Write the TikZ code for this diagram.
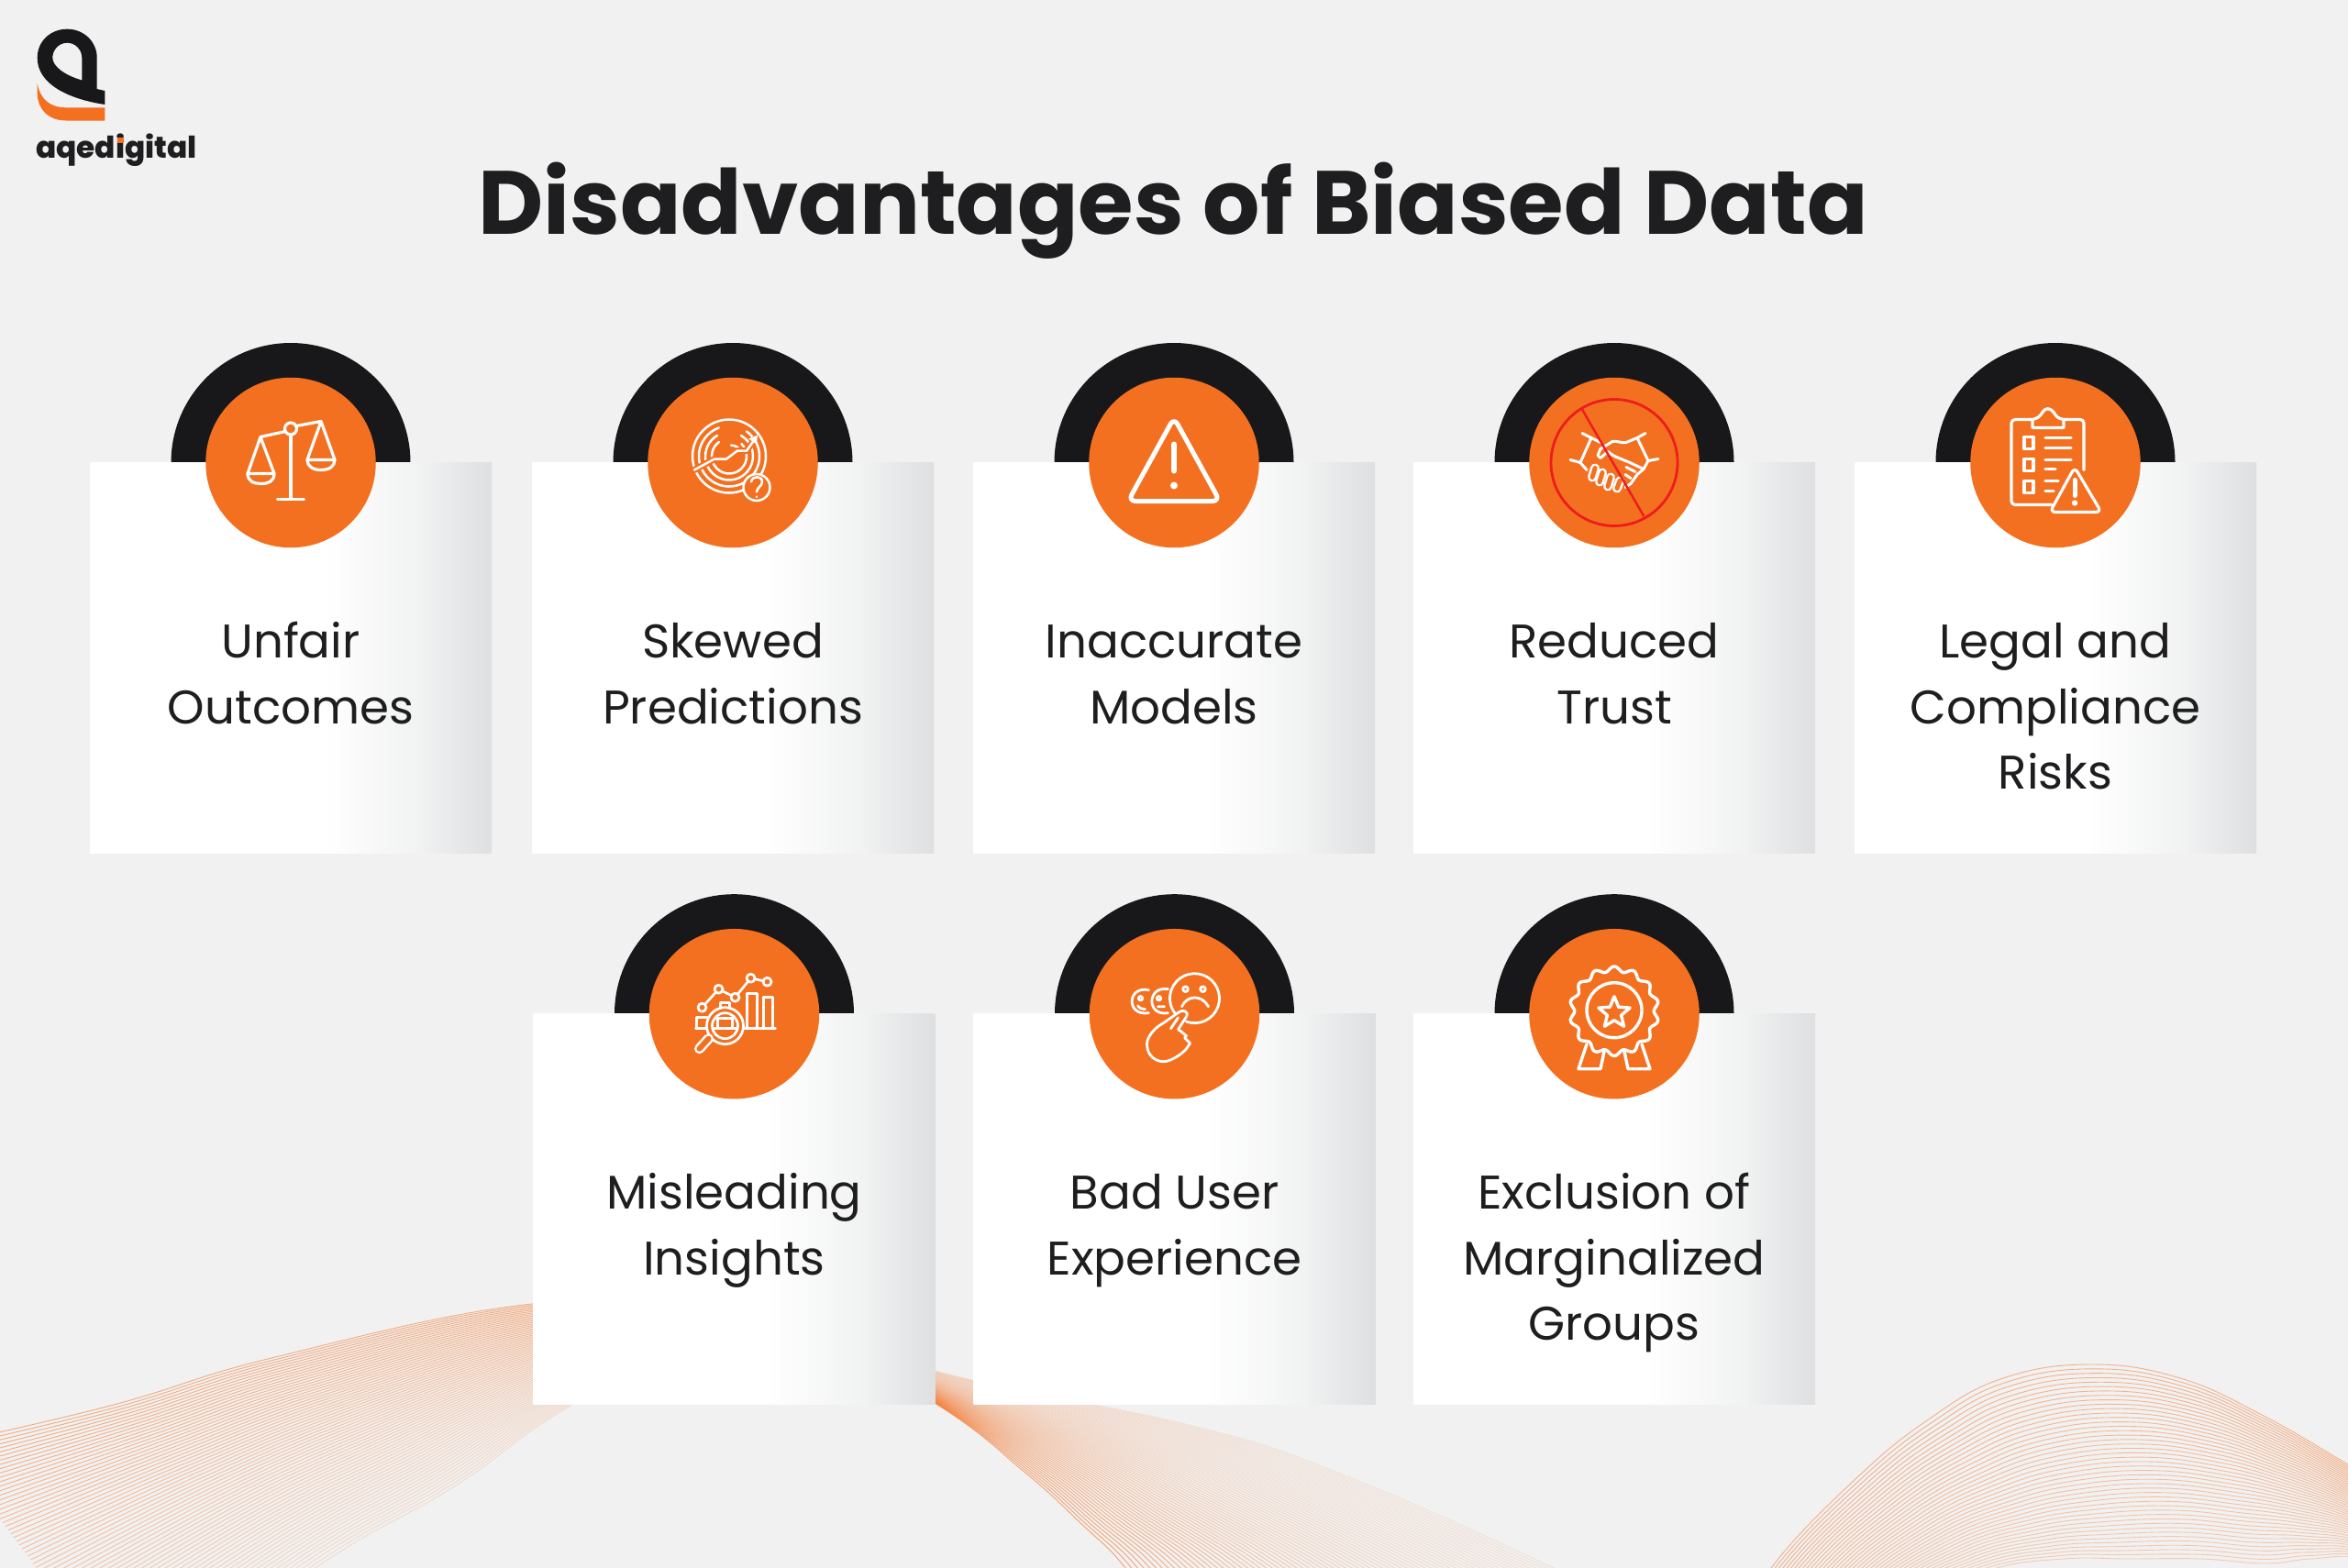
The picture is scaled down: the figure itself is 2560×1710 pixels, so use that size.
\documentclass[tikz,border=0pt]{standalone}
\usepackage{fontspec}
\setmainfont{Poppins}
\newfontfamily\logofont{Poppins ExtraBold}
\usetikzlibrary{calc}
\definecolor{bgc}{HTML}{F1F1F1}
\definecolor{orangec}{HTML}{F37021}
\definecolor{blackc}{HTML}{18181A}
\definecolor{textc}{HTML}{1E1E20}
\definecolor{redc}{HTML}{EE1C1C}
\definecolor{F1c}{HTML}{F1F2F2}
\definecolor{G1c}{HTML}{DDDFE1}
\pgfdeclarehorizontalshading{cardshade}{100bp}{color(0bp)=(white);color(25bp)=(white);color(54bp)=(white);color(66bp)=(F1c);color(75bp)=(G1c);color(100bp)=(G1c)}
\tikzset{
  arcdisc/.style={circle,fill=blackc,minimum size=261pt,inner sep=0pt},
  badgedisc/.style={circle,fill=orangec,minimum size=185.5pt,inner sep=0pt},
  cardbox/.style={anchor=north west,minimum width=438pt,minimum height=426pt,inner sep=0pt,shading=cardshade},
  cardtext/.style={anchor=north,align=center,inner sep=0pt,text=textc,font=\fontsize{51.5}{71.5}\selectfont},
  icon/.style={draw=white,line width=3.2pt,line cap=round,line join=round},
  wavec/.style={draw=orangec,line width=0.9pt}
}
\newcommand{\carditem}[4]{%
  \node[arcdisc] (arc#1) at (#2,#3) {};
  \node[cardbox] (card#1) at (#2-219,#3) {};
  \node[badgedisc] (disc#1) at (#2,#3) {};
  \node[cardtext] (label#1) at (#2,#3+163) {\strut #4};
}
\newcommand{\capsule}[5][10]{%
  \draw[line width=#1 pt,draw=white] (#2,#3) -- (#4,#5);
  \draw[line width=#1 pt-5pt,draw=orangec] (#2,#3) -- (#4,#5);
}
\begin{document}
\begin{tikzpicture}[x=1pt,y=-1pt]
\useasboundingbox (0,0) rectangle (2560,1710);
\fill[bgc] (0,0) rectangle (2560,1710);

% waves
\coordinate (La0) at (-60,1575);  \coordinate (Lb0) at (150,1860);
\coordinate (La1) at (124,1532);  \coordinate (Lb1) at (344,1710);
\coordinate (La2) at (300,1480);  \coordinate (Lb2) at (497,1620);
\coordinate (La3) at (580,1422);  \coordinate (Lb3) at (622,1533);
\coordinate (La4) at (800,1425);  \coordinate (Lb4) at (830,1425);
\coordinate (La5) at (1019,1495); \coordinate (Lb5) at (1019,1530);
\coordinate (La6) at (1300,1555); \coordinate (Lb6) at (1119,1607);
\coordinate (La7) at (1461,1607); \coordinate (Lb7) at (1177,1660);
\coordinate (La8) at (1694,1710); \coordinate (Lb8) at (1227,1710);
\coordinate (La9) at (1850,1790); \coordinate (Lb9) at (1270,1780);
\coordinate (Ra0) at (1880,1800); \coordinate (Rb0) at (2050,1830);
\coordinate (Ra1) at (1931,1710); \coordinate (Rb1) at (2090,1750);
\coordinate (Ra2) at (2023,1613); \coordinate (Rb2) at (2170,1712);
\coordinate (Ra3) at (2104,1547); \coordinate (Rb3) at (2250,1700);
\coordinate (Ra4) at (2184,1503); \coordinate (Rb4) at (2320,1700);
\coordinate (Ra5) at (2281,1488); \coordinate (Rb5) at (2400,1700);
\coordinate (Ra6) at (2377,1503); \coordinate (Rb6) at (2470,1705);
\coordinate (Ra7) at (2466,1543); \coordinate (Rb7) at (2520,1700);
\coordinate (Ra8) at (2560,1597); \coordinate (Rb8) at (2580,1700);
\coordinate (Ra9) at (2650,1650); \coordinate (Rb9) at (2660,1730);
\begin{scope}
\clip (0,0) rectangle (2560,1710);
\foreach \i in {0,...,70}{
  \pgfmathsetmacro\t{\i/70}
  \pgfmathsetmacro\op{0.55-0.37*\t}
  \pgfmathsetmacro\oq{0.14+0.48*\t*\t}
  \draw[wavec,opacity=\op] plot[smooth,tension=0.7] coordinates {
   ($(La0)!\t!(Lb0)$) ($(La1)!\t!(Lb1)$) ($(La2)!\t!(Lb2)$) ($(La3)!\t!(Lb3)$) ($(La4)!\t!(Lb4)$)};
  \draw[wavec,opacity=\oq] plot[smooth,tension=0.7] coordinates {
   ($(La4)!\t!(Lb4)$) ($(La5)!\t!(Lb5)$) ($(La6)!\t!(Lb6)$) ($(La7)!\t!(Lb7)$) ($(La8)!\t!(Lb8)$) ($(La9)!\t!(Lb9)$)};
}
\foreach \i in {0,...,44}{
  \pgfmathsetmacro\t{\i/44}
  \pgfmathsetmacro\op{0.5-0.2*\t}
  \draw[wavec,opacity=\op] plot[smooth,tension=0.7] coordinates {
   ($(Ra0)!\t!(Rb0)$) ($(Ra1)!\t!(Rb1)$) ($(Ra2)!\t!(Rb2)$) ($(Ra3)!\t!(Rb3)$) ($(Ra4)!\t!(Rb4)$)
   ($(Ra5)!\t!(Rb5)$) ($(Ra6)!\t!(Rb6)$) ($(Ra7)!\t!(Rb7)$) ($(Ra8)!\t!(Rb8)$) ($(Ra9)!\t!(Rb9)$)};
}
\end{scope}

% logo
\fill[blackc,even odd rule] (114.3,114) -- (114.3,99) .. controls (110,98) and (107,97.5) .. (105.7,97) -- (105.7,63)
  .. controls (105.7,45) and (91,31.7) .. (73.2,31.7) .. controls (55,31.7) and (40.7,45) .. (40.7,63)
  .. controls (40.7,92) and (75,108) .. (114.3,114) -- cycle
  (89.3,87.5) -- (89.3,63) .. controls (89.3,54) and (82,46.7) .. (73.3,46.7) .. controls (64.5,46.7) and (57.3,54) .. (57.3,63)
  .. controls (57.3,72) and (70,82) .. (89.3,87.5) -- cycle;
\fill[orangec] (40.7,91) .. controls (44,108) and (54,117.3) .. (72,117.3) -- (114.3,117.3) -- (114.3,131.5) -- (72,131.5)
  .. controls (52,131.5) and (40.7,118) .. (40.7,102) -- cycle;
\node[anchor=base west,inner sep=0pt,text=textc,font=\logofont\fontsize{32.7}{36}\selectfont] (logotext) at (39,172) {aqedigital};
\fill[orangec] (128,149.5) rectangle (134.5,155.5);

% title
\node[anchor=base,inner sep=0pt,text=textc,font=\fontsize{98}{110}\bfseries\selectfont] (title) at (1279,255) {Disadvantages of Biased Data};

% cards
\carditem{1}{317}{504.5}{Unfair\\Outcomes}
\carditem{2}{799}{504.5}{Skewed\\Predictions}
\carditem{3}{1280}{504.5}{Inaccurate\\Models}
\carditem{4}{1760}{504.5}{Reduced\\Trust}
\carditem{5}{2241}{504.5}{Legal and\\Compliance\\Risks}
\carditem{6}{800.5}{1105.7}{Misleading\\Insights}
\carditem{7}{1280.5}{1105.7}{Bad User\\Experience}
\carditem{8}{1760}{1105.7}{Exclusion of\\Marginalized\\Groups}

% icon 1: scales
\begin{scope}[shift={(disc1.center)},icon]
\draw (0,-30) -- (0,40) (-14.5,40) -- (14.5,40);
\draw (-33,-28) -- (-6,-34) (6,-40) -- (33,-45);
\draw (0,-37) circle (6.5);
\draw (-47,12) -- (-33,-28) -- (-18,12);
\draw (-47,12) -- (-18,12) .. controls (-18,20) and (-24,23) .. (-32,23) .. controls (-41,23) and (-47,20) .. (-47,12) -- cycle;
\draw (18,-3) -- (33,-45) -- (48,-3);
\draw (18,-3) -- (48,-3) .. controls (48,4) and (42,8) .. (33,8) .. controls (24,8) and (18,4) .. (18,-3) -- cycle;
\end{scope}
% icon 2: rings
\begin{scope}[shift={(disc2.center)},icon,line width=2.5pt]
\foreach \r/\a/\b in {40/0/360,33/-55/250,26/-60/240,19/-45/235}{
  \draw ([shift={(\a:\r)}]-4,-7) arc (\a:\b:\r);
}
\draw ([shift={(-90:12)}]-2,-7) arc (-90:-20:12);
\draw[draw=orangec,line width=7pt] (-42,8) -- (-20,-4) -- (-7,-4) -- (5,-13) -- (15,-13) -- (25,-27);
\draw (-42,8) -- (-20,-4) -- (-7,-4) -- (5,-13) -- (15,-13) -- (25,-27);
\fill[white] (27,-30) -- (26,-20) -- (17,-26) -- cycle;
\filldraw[fill=orangec] (26,27) circle (14.5);
\draw (20,21) .. controls (21,14) and (32,14) .. (32,21) .. controls (32,26) and (26,27) .. (26,32);
\draw (26,37) -- (26,37.5);
\end{scope}
% icon 3: warning
\begin{scope}[shift={(disc3.center)},icon,line width=5pt]
\draw[rounded corners=8pt] (0,-49) -- (50,42) -- (-50,42) -- cycle;
\draw[line width=6pt] (0,-20) -- (0,9);
\fill[white] (0,25) circle (4);
\end{scope}
% icon 4: handshake
\begin{scope}[shift={(disc4.center)},icon,line width=3pt]
\draw (-35,-32) -- (-25,-27) -- (-37,0) -- (-48,-3);
\draw (34,-32) -- (25,-27) -- (37,-2) -- (48,-4);
\draw (-25,-27) -- (-15,-22);
\draw (25,-27) -- (13,-22) .. controls (8,-21) and (3,-24) .. (-2,-23) -- (-15,-15) -- (-18,-8) -- (-15,-5) -- (-7,-12) .. controls (-2,-8) and (2,-6) .. (5,-5) -- (17,0) -- (32,7) -- (37,-2);
\draw (32,7) -- (25,13) -- (18,23) -- (12,27);
\draw (-37,0) -- (-30,8);
\capsule{-21}{6}{-24}{16}
\capsule{-13}{11}{-16}{21}
\capsule{-4}{16}{-7}{26}
\capsule{6}{20}{3}{28}
\draw (13,5) -- (23,10) (12,13) -- (18,17);
\draw[redc,line width=2.8pt] (0,0) circle (69);
\draw[redc,line width=2.4pt] (-35,-58) -- (32,58);
\end{scope}
% icon 5: clipboard
\begin{scope}[shift={(disc5.center)},icon]
\draw[rounded corners=4pt] (-25,-47) -- (-48,-47) -- (-48,46) -- (-4,46);
\draw[rounded corners=4pt] (9,-47) -- (31,-47) -- (31,8);
\draw (-25,-38) -- (9,-38) -- (9,-47) .. controls (3,-48) and (1,-50) .. (-2,-55) .. controls (-6,-60) and (-11,-60) .. (-14,-55) .. controls (-17,-50) and (-20,-48) .. (-25,-47) -- cycle;
\draw (-34,-28) rectangle (-24,-15);
\draw (-34,-4) rectangle (-24,9);
\draw (-34,20) rectangle (-24,33);
\draw (-11,-27) -- (17,-27) (-11,-16) -- (17,-16) (-11,-3) -- (17,-3) (-11,7) -- (0,7) (-11,20) -- (3,20) (-11,31) -- (-2,31);
\filldraw[fill=orangec,rounded corners=6pt] (21,5) -- (50,54) -- (-6,54) -- cycle;
\draw[line width=5pt] (21,19) -- (21,36);
\fill[white] (21,44) circle (3.2);
\end{scope}
% icon 6: analytics
\begin{scope}[shift={(disc6.center)},icon,line width=2.7pt]
\draw (-42,16) -- (45,16);
\draw (-41,16) -- (-41,4) -- (-28,4);
\draw (14,16) -- (14,-22) -- (25,-22) -- (25,16);
\draw (32,16) -- (32,-18) -- (42,-18) -- (42,16);
\draw (-35,-7) -- (-17,-27) -- (1,-18) -- (18,-39) -- (36,-35);
\filldraw[fill=orangec] (-35,-7) circle (4.5) (-17,-27) circle (4.5) (1,-18) circle (4.5) (18,-39) circle (4.5) (36,-35) circle (4.5);
\draw (-15,-7) -- (-15,-12) -- (-5,-12) -- (-5,-7);
\filldraw[fill=orangec] (-10,13) circle (20);
\draw (-10,13) circle (14);
\draw (-18,15) -- (-18,5) -- (-2,5) -- (-2,15) (-22,16) -- (2,16);
\capsule[11]{-28}{27}{-38}{38}
\end{scope}
% icon 7: faces and hand
\begin{scope}[shift={(disc7.center)},icon,line width=2.8pt]
\draw ([shift={(110:27)}]22,-17) arc (110:-220:27);
\draw (12,-27) circle (2.8) (31,-27) circle (2.8);
\draw (8,-8) .. controls (14,-21) and (30,-21) .. (37,-8);
\draw (-7,-27) .. controls (-30,-31) and (-31,3) .. (-7,-1);
\draw (-28,-26) .. controls (-52,-31) and (-53,3) .. (-28,-1);
\draw (-17,-17) circle (2.2) (-37,-17) circle (2.2);
\draw (-18,-8) -- (-11,-8) (-40,-9) .. controls (-38,-6) and (-35,-5) .. (-32,-5);
\filldraw[fill=orangec] (5,-2) -- (-12,10) .. controls (-20,14) and (-30,24) .. (-30,33) .. controls (-30,46) and (-20,52) .. (-12,52) .. controls (-4,52) and (8,44) .. (13,38) -- (17,32) -- (11,26) -- (13,24) -- (7,19) -- (4,17) -- (13,3) .. controls (16,-3) and (9,-5) .. (5,-2) -- cycle;
\draw (-4,16) -- (4,4);
\end{scope}
% icon 8: award
\begin{scope}[shift={(disc8.center)},icon,line width=3.4pt]
\draw plot[domain=0:360,samples=169,smooth] ({(46-2.8*cos(14*\x))*cos(\x)},{-3+(46-2.8*cos(14*\x))*sin(\x)}) -- cycle;
\draw (0,-4) circle (30);
\draw (0,-19) -- (4.7,-7.5) -- (17.1,-6.6) -- (7.6,1.5) -- (10.6,13.6) -- (0,7) -- (-10.6,13.6) -- (-7.6,1.5) -- (-17.1,-6.6) -- (-4.7,-7.5) -- cycle;
\draw (-30,33) -- (-39,60) -- (-15,60) -- (-11,41);
\draw (30,33) -- (39,60) -- (15,60) -- (11,41);
\end{scope}
\end{tikzpicture}
\end{document}
